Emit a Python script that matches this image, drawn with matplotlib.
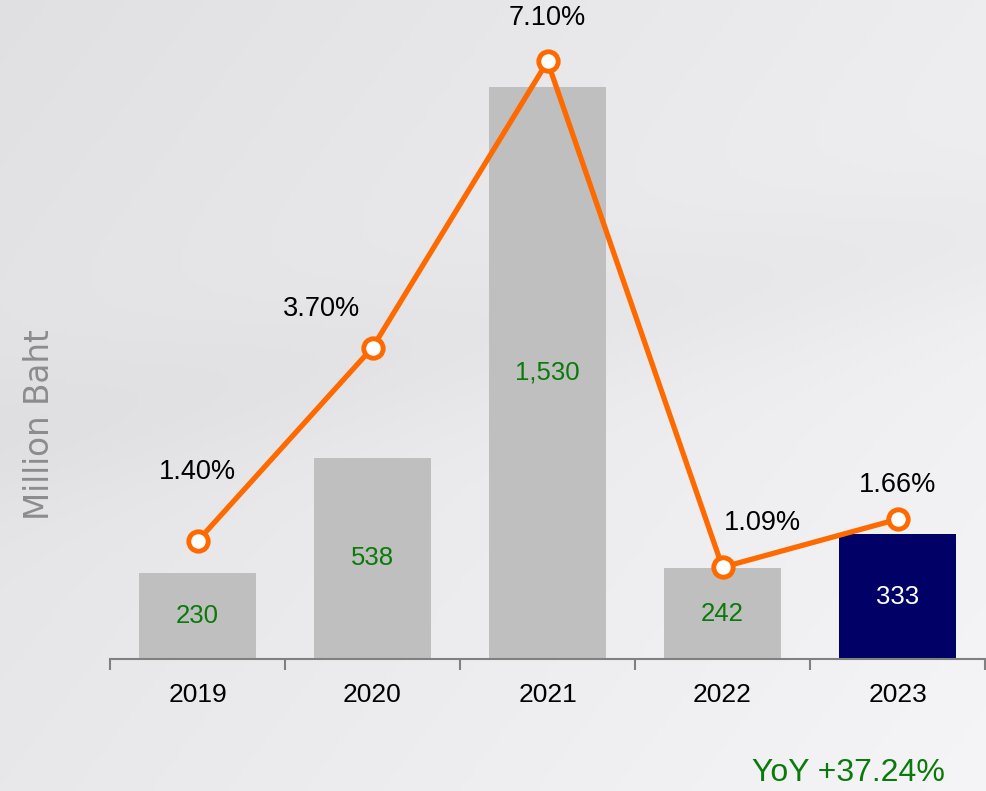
import numpy as np
import matplotlib.pyplot as plt

years = ["2019", "2020", "2021", "2022", "2023"]
profit = [230, 538, 1530, 242, 333]
margin = [1.40, 3.70, 7.10, 1.09, 1.66]
margin_labels = ["1.40%", "3.70%", "7.10%", "1.09%", "1.66%"]
yoy_text = "YoY +37.24%"

# label offsets (points) for the margin labels
label_dx = [0, -37, 0, 29, 0]
label_dy = [50, 28, 31, 32, 25]

orange = "#FF6A00"
bar_gray = "#BFBFBF"
navy = "#000066"
green = "#0A7A0A"

plt.rcParams["font.family"] = ["Liberation Sans", "DejaVu Sans"]

fig = plt.figure(figsize=(9.87, 7.91), dpi=100)

# soft gray background
bg = fig.add_axes([0, 0, 1, 1])
yy, xx = np.mgrid[0:1:200j, 0:1:250j]
shade = 0.88 + 0.05 * xx + 0.03 * yy - 0.02 * np.exp(-((yy - 0.55 + 0.25 * xx) ** 2) / 0.01)
bg.imshow(np.dstack([shade, shade, shade * 1.01]).clip(0, 1), aspect="auto", extent=[0, 1, 0, 1])
bg.axis("off")

ax = fig.add_axes([110 / 987, 132 / 791, 875 / 987, 659 / 791])
ax.patch.set_alpha(0)
x = np.arange(len(years))
colors = [bar_gray] * 4 + [navy]
bars = ax.bar(x, profit, width=0.67, color=colors, zorder=2)
lbls = ax.bar_label(bars, labels=[f"{v:,}" for v in profit], label_type="center", fontsize=18.5)
for t, c in zip(lbls, [green] * 4 + ["white"]):
    t.set_color(c)

ax.set_xlim(-0.5, 4.5)
ax.set_ylim(0, 1762)
ax.set_yticks([])
for s in ["top", "right", "left"]:
    ax.spines[s].set_visible(False)
ax.spines["bottom"].set_color("#808080")
ax.spines["bottom"].set_linewidth(1.5)
ax.set_xticks(x)
ax.set_xticklabels(years, fontsize=19)
ax.tick_params(axis="x", length=0, pad=17)
ax.set_xticks(np.arange(-0.5, 5, 1), minor=True)
ax.tick_params(axis="x", which="minor", length=8, width=1.5, color="#808080")

fig.text(40 / 987, 1 - 425 / 791, "Million Baht", rotation=90, ha="center", va="center",
         fontsize=23.5, color="#8C8C8C", family="DejaVu Sans")

ax2 = ax.twinx()
ax2.set_ylim(0, 7.83)
ax2.axis("off")
ax2.plot(x, margin, color=orange, lw=3.8, marker="o", markersize=14,
         markerfacecolor="white", markeredgecolor=orange, markeredgewidth=3.5, zorder=3)
for i in range(len(years)):
    ax2.annotate(margin_labels[i], (x[i], margin[i]), xytext=(label_dx[i], label_dy[i]),
                 textcoords="offset points", ha="center", va="center", fontsize=19.5)

fig.text(945 / 987, 18 / 791, yoy_text, ha="right", va="center", fontsize=23, color=green)

plt.savefig("out.png", dpi=100)
